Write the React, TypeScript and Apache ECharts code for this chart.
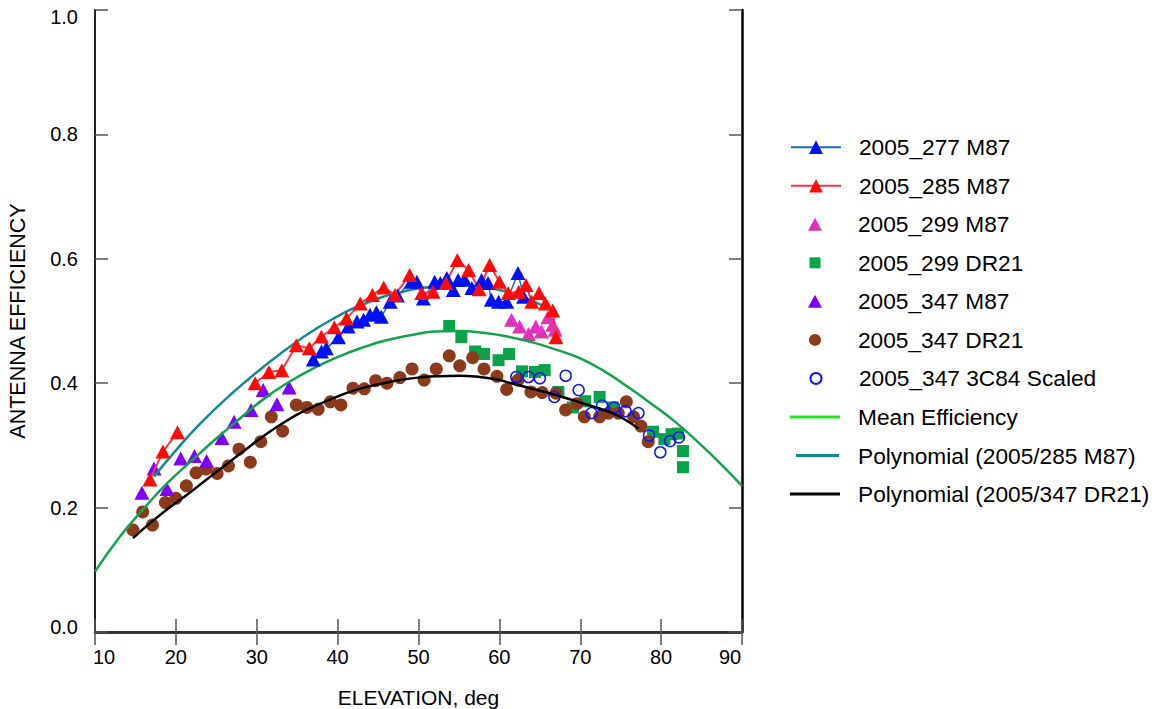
import React, { useEffect, useRef } from "react";
import * as echarts from "echarts";

// ---- data (elevation deg, antenna efficiency) ----
const blue277: [number, number][] = [
  [37.0, 0.438], [38.0, 0.451], [38.6, 0.456], [40.1, 0.474], [41.3, 0.491], [42.4, 0.499],
  [43.2, 0.502], [44.0, 0.510], [44.8, 0.514], [45.4, 0.507], [46.5, 0.531], [47.4, 0.541],
  [49.1, 0.563], [49.8, 0.563], [50.6, 0.536], [52.0, 0.563], [52.7, 0.561], [53.5, 0.569],
  [54.3, 0.550], [54.9, 0.566], [55.7, 0.567], [56.6, 0.553], [57.8, 0.566], [58.6, 0.561],
  [59.0, 0.534], [59.9, 0.531], [60.9, 0.531], [62.3, 0.577], [63.0, 0.539],
];

const red285a: [number, number][] = [
  [16.8, 0.245], [18.4, 0.290], [20.2, 0.321],
];
const red285b: [number, number][] = [
  [29.8, 0.400], [31.5, 0.418], [33.1, 0.421], [34.9, 0.461], [36.5, 0.456], [38.0, 0.475],
  [39.6, 0.490], [41.1, 0.504], [42.8, 0.528], [44.3, 0.542], [45.7, 0.554], [47.1, 0.542],
  [48.9, 0.574], [50.4, 0.545], [51.8, 0.547], [53.4, 0.561], [54.8, 0.598], [56.2, 0.582],
  [57.5, 0.551], [58.8, 0.590], [60.0, 0.563], [61.1, 0.545], [62.4, 0.547], [63.3, 0.558],
  [64.0, 0.531], [64.9, 0.545], [65.7, 0.528], [66.6, 0.517], [67.0, 0.474],
];

const magenta299: [number, number][] = [
  [61.5, 0.502], [62.5, 0.491], [63.6, 0.479], [64.5, 0.491], [65.2, 0.483], [66.0, 0.506],
  [66.6, 0.494], [66.9, 0.486],
];

const green299: [number, number][] = [
  [53.8, 0.492], [55.3, 0.474], [57.0, 0.451], [58.1, 0.447], [59.9, 0.437], [61.2, 0.447],
  [62.8, 0.419], [64.4, 0.418], [65.6, 0.421], [67.3, 0.386], [69.1, 0.361], [70.6, 0.371],
  [72.4, 0.378], [74.0, 0.361], [79.0, 0.322], [80.4, 0.310], [81.3, 0.318], [82.1, 0.319],
  [82.7, 0.291], [82.7, 0.265],
];

const purple347: [number, number][] = [
  [15.8, 0.224], [17.3, 0.263], [18.9, 0.230], [20.6, 0.279], [22.3, 0.283], [23.8, 0.275],
  [25.7, 0.312], [27.2, 0.338], [29.3, 0.357], [30.8, 0.389], [32.5, 0.366], [34.0, 0.393],
];

const brown347: [number, number][] = [
  [14.7, 0.164], [15.9, 0.193], [17.1, 0.172], [18.7, 0.208], [20.0, 0.215], [21.3, 0.235],
  [22.5, 0.256], [23.7, 0.262], [25.1, 0.255], [26.5, 0.267], [27.8, 0.294], [29.2, 0.273],
  [30.5, 0.306], [31.8, 0.346], [33.2, 0.323], [34.9, 0.365], [36.2, 0.361], [37.6, 0.358],
  [39.1, 0.370], [40.4, 0.365], [41.9, 0.392], [43.3, 0.391], [44.7, 0.404], [46.1, 0.400],
  [47.7, 0.409], [49.2, 0.423], [50.7, 0.405], [52.2, 0.423], [53.8, 0.444], [55.1, 0.428],
  [56.7, 0.441], [58.1, 0.423], [59.7, 0.411], [60.9, 0.390], [62.3, 0.405], [63.9, 0.386],
  [65.3, 0.385], [67.0, 0.384], [68.2, 0.357], [69.6, 0.367], [70.5, 0.346], [72.4, 0.346],
  [73.5, 0.352], [74.7, 0.352], [75.7, 0.370], [76.6, 0.346], [77.5, 0.331], [78.4, 0.306],
];

const c84Scaled: [number, number][] = [
  [62.1, 0.410], [63.6, 0.410], [65.0, 0.408], [66.8, 0.378], [68.2, 0.412], [69.8, 0.389],
  [71.4, 0.352], [72.7, 0.364], [74.2, 0.361], [75.6, 0.355], [77.2, 0.352], [78.5, 0.316],
  [79.9, 0.289], [81.1, 0.307], [82.2, 0.313],
];

const meanEff: [number, number][] = [
  [10, 0.097], [13, 0.152], [16, 0.198], [19, 0.240], [22, 0.276], [25, 0.311], [28, 0.344],
  [31, 0.376], [34, 0.402], [37, 0.424], [40, 0.442], [43, 0.457], [46, 0.469], [49, 0.477],
  [52, 0.483], [55, 0.484], [58, 0.481], [61, 0.475], [64, 0.466], [67, 0.454], [70, 0.440],
  [73, 0.419], [76, 0.393], [79, 0.365], [82, 0.335], [85, 0.300], [88, 0.262], [90, 0.235],
];

const poly285: [number, number][] = [
  [17.3, 0.250], [20, 0.292], [23, 0.335], [26.7, 0.381], [30.8, 0.426], [35.3, 0.470],
  [39.5, 0.504], [43.6, 0.529], [47.7, 0.546], [51.8, 0.555], [55.5, 0.557], [58.8, 0.553],
  [62, 0.543], [64.6, 0.529], [67.1, 0.515],
];

const poly347: [number, number][] = [
  [14.7, 0.151], [17, 0.177], [19.3, 0.201], [21.5, 0.222], [23.4, 0.241], [25.5, 0.262],
  [27.5, 0.282], [29.5, 0.302], [31.6, 0.322], [33.5, 0.338], [35.5, 0.353], [37.5, 0.365],
  [39.5, 0.376], [41.5, 0.386], [43.6, 0.394], [45.7, 0.400], [47.7, 0.405], [50, 0.409],
  [52, 0.411], [55, 0.412], [57.6, 0.410], [59.7, 0.406], [61.7, 0.399], [63.8, 0.392],
  [65.9, 0.385], [68, 0.377], [70, 0.369], [72, 0.361], [74.1, 0.351], [75.7, 0.340],
  [77.2, 0.327],
];

const legendNames = [
  "2005_277 M87",
  "2005_285 M87",
  "2005_299 M87",
  "2005_299 DR21",
  "2005_347 M87",
  "2005_347 DR21",
  "2005_347 3C84 Scaled",
  "Mean Efficiency",
  "Polynomial (2005/285 M87)",
  "Polynomial (2005/347 DR21)",
];

const FONT = "'Liberation Sans', Arial, Helvetica, sans-serif";
const TXT = "#000";

// legend icon layout per row (style only)
const legendIcons: { icon?: string; w: number; h: number; left: number; color?: string }[] = [
  { w: 50, h: 17, left: 790 },
  { w: 50, h: 17, left: 790 },
  { icon: "triangle", w: 14, h: 13, left: 808 },
  { icon: "rect", w: 11, h: 11, left: 809.5 },
  { icon: "triangle", w: 14, h: 13, left: 808 },
  { icon: "circle", w: 12, h: 12, left: 809 },
  { icon: "circle", w: 11, h: 11, left: 809.5 },
  { icon: "rect", w: 50, h: 3, left: 790, color: "#22E622" },
  { icon: "rect", w: 43, h: 3, left: 796 },
  { icon: "rect", w: 50, h: 3, left: 790 },
];

export default function App() {
  const ref = useRef<HTMLDivElement>(null);
  useEffect(() => {
    document.body.style.margin = "0";
    if (!ref.current) return;
    const chart = echarts.init(ref.current, null, { renderer: "svg" });
    const tri = { symbol: "triangle", symbolSize: [15, 14] };
    const magentaFill = {
      type: "linear", x: 0, y: 0, x2: 0, y2: 1,
      colorStops: [{ offset: 0, color: "#FF1EF0" }, { offset: 1, color: "#D23C9C" }],
    };
    const axisCommon = {
      splitLine: { show: false },
      axisTick: { show: true, inside: true, length: 13, lineStyle: { color: "#555", width: 1.5 } },
    };
    const LEG_FS = 22.7;
    const legends = legendNames.map((n, i) => {
      const s = legendIcons[i];
      const center = 147 + i * 38.55;
      const item: any = { name: n };
      if (s.icon) item.icon = s.icon;
      if (s.color) item.itemStyle = { color: s.color };
      return {
        show: true,
        orient: "vertical",
        left: s.left,
        top: center - LEG_FS / 2,
        padding: 0,
        itemWidth: s.w,
        itemHeight: s.h,
        selectedMode: false,
        textStyle: {
          fontSize: LEG_FS, color: TXT, fontFamily: FONT,
          padding: [0, 0, 0, 858 - (s.left + s.w + 5)],
        },
        data: [item],
      };
    });
    const option: any = {
      animation: false,
      textStyle: { fontFamily: FONT },
      grid: { left: 95, top: 10, right: 417, bottom: 77, containLabel: false, outerBoundsMode: "none" },
      xAxis: [
        {
          type: "value", min: 10, max: 90, interval: 10, position: "bottom",
          axisLine: { lineStyle: { color: "#000", width: 2.5 } },
          axisLabel: {
            fontSize: 20, color: TXT, margin: 15, fontFamily: FONT,
            formatter: (v: number) => (v === 10 ? "{l|10}" : v === 90 ? "{r|90}" : String(v)),
            rich: {
              l: { fontSize: 20, color: TXT, fontFamily: FONT, padding: [0, 0, 0, 18] },
              r: { fontSize: 20, color: TXT, fontFamily: FONT, padding: [0, 24, 0, 0] },
            },
          },
          name: "ELEVATION, deg", nameLocation: "middle", nameGap: 55,
          nameTextStyle: { fontSize: 21, color: TXT, fontFamily: FONT },
          ...axisCommon,
        },
        {
          type: "value", min: 10, max: 90, interval: 10, position: "top",
          axisLine: { lineStyle: { color: "#333", width: 2 } },
          axisLabel: { show: false },
          ...axisCommon,
        },
      ],
      yAxis: [
        {
          type: "value", min: 0, max: 1, interval: 0.2, position: "left",
          axisLine: { lineStyle: { color: "#222", width: 2 } },
          axisLabel: {
            fontSize: 20, color: TXT, margin: 17, fontFamily: FONT,
            formatter: (v: number) => (v === 1 ? "{t|1.0}" : v === 0 ? "{b|0.0}" : v.toFixed(1)),
            rich: {
              t: { fontSize: 20, color: TXT, fontFamily: FONT, padding: [14, 0, 0, 0] },
              b: { fontSize: 20, color: TXT, fontFamily: FONT, padding: [0, 0, 10, 0] },
            },
          },
          name: "ANTENNA EFFICIENCY", nameLocation: "middle", nameGap: 66,
          nameTextStyle: { fontSize: 21.5, color: TXT, fontFamily: FONT },
          ...axisCommon,
        },
        {
          type: "value", min: 0, max: 1, interval: 0.2, position: "right",
          axisLine: { lineStyle: { color: "#000", width: 2.5 } },
          axisLabel: { show: false },
          ...axisCommon,
        },
      ],
      legend: legends,
      series: [
        { name: "Mean Efficiency", type: "line", data: meanEff, smooth: true, symbol: "none",
          lineStyle: { color: "#14A24E", width: 2.5 }, itemStyle: { color: "#14A24E" } },
        { name: "Polynomial (2005/285 M87)", type: "line", data: poly285, smooth: true, symbol: "none",
          lineStyle: { color: "#138A8C", width: 2.5 }, itemStyle: { color: "#138A8C" } },
        { name: "Polynomial (2005/347 DR21)", type: "line", data: poly347, smooth: true, symbol: "none",
          lineStyle: { color: "#000", width: 2.5 }, itemStyle: { color: "#000" } },
        { name: "2005_299 DR21", type: "scatter", data: green299, symbol: "rect", symbolSize: 12,
          itemStyle: { color: "#0BA24A", opacity: 1 } },
        { name: "2005_347 DR21", type: "scatter", data: brown347, symbol: "circle", symbolSize: 13,
          itemStyle: { color: "#8B3A1C", opacity: 1 } },
        { name: "2005_347 3C84 Scaled", type: "scatter", data: c84Scaled, symbol: "circle", symbolSize: 11,
          itemStyle: { color: "rgba(255,255,255,0)", borderColor: "#1414F5", borderWidth: 1.5, opacity: 1 } },
        { name: "2005_347 M87", type: "scatter", data: purple347, ...tri, itemStyle: { color: "#8000FF", opacity: 1 } },
        { name: "2005_299 M87", type: "scatter", data: magenta299, ...tri, itemStyle: { color: magentaFill, opacity: 1 } },
        { name: "2005_277 M87", type: "line", data: blue277, ...tri, showSymbol: true,
          lineStyle: { color: "#1E6EC0", width: 1.5 }, itemStyle: { color: "#0010F5" } },
        { name: "2005_285 M87", type: "line", data: red285a, ...tri, showSymbol: true,
          lineStyle: { color: "#F03A4A", width: 2 }, itemStyle: { color: "#FF0A0A" } },
        { name: "2005_285 M87", type: "line", data: red285b, ...tri, showSymbol: true,
          lineStyle: { color: "#F03A4A", width: 2 }, itemStyle: { color: "#FF0A0A" } },
      ],
    };
    chart.setOption(option);
    return () => chart.dispose();
  }, []);
  return <div ref={ref} style={{ width: 1159, height: 709 }} />;
}
